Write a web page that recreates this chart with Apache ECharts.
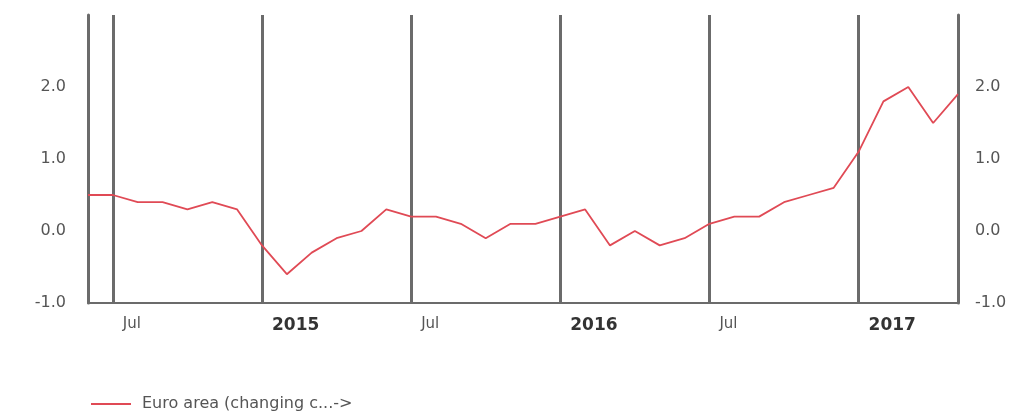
<!DOCTYPE html>
<html>
<head>
<meta charset="utf-8">
<script src="https://cdn.jsdelivr.net/npm/echarts@6/dist/echarts.min.js"></script>
<style>
  html, body { margin: 0; padding: 0; background: #fff; }
  #content { width: 1029px; height: 411px; }
</style>
</head>
<body>
<div id="content"></div>
<script>
var chart = echarts.init(document.getElementById('content'));

// months shown, May 2014 .. Apr 2017
var months = [
    '2014-05', '2014-06', '2014-07', '2014-08', '2014-09', '2014-10', '2014-11', '2014-12',
    '2015-01', '2015-02', '2015-03', '2015-04', '2015-05', '2015-06', '2015-07', '2015-08',
    '2015-09', '2015-10', '2015-11', '2015-12', '2016-01', '2016-02', '2016-03', '2016-04',
    '2016-05', '2016-06', '2016-07', '2016-08', '2016-09', '2016-10', '2016-11', '2016-12',
    '2017-01', '2017-02', '2017-03', '2017-04'
];

// euro area annual inflation, %
var euroArea = [
    0.5, 0.5, 0.4, 0.4, 0.3, 0.4, 0.3, -0.2,
    -0.6, -0.3, -0.1, 0.0, 0.3, 0.2, 0.2, 0.1,
    -0.1, 0.1, 0.1, 0.2, 0.3, -0.2, 0.0, -0.2,
    -0.1, 0.1, 0.2, 0.2, 0.4, 0.5, 0.6, 1.1,
    1.8, 2.0, 1.5, 1.9
];

// tick label positions (month index) and their text
var tickIndex = [1, 7, 13, 19, 25, 31];
var tickText = ['Jul', '2015', 'Jul', '2016', 'Jul', '2017'];

var gridColor = '#6b6b6b';

var option = {
    animation: false,
    grid: { left: 88, right: 71, top: 15, bottom: 108 },
    legend: {
        left: 86,
        top: 391,
        icon: 'rect',
        itemWidth: 40,
        itemHeight: 2,
        textStyle: { fontFamily: 'DejaVu Sans', fontSize: 16, color: '#555', padding: [0, 0, 0, 6] },
        data: ['Euro area (changing c...->']
    },
    xAxis: {
        type: 'category',
        data: months,
        boundaryGap: false,
        axisLine: { onZero: false, lineStyle: { color: gridColor, width: 2 } },
        axisTick: { show: false },
        axisLabel: {
            interval: function (i) { return tickIndex.indexOf(i) >= 0; },
            align: 'left',
            margin: 14,
            padding: [0, 0, 0, 10],
            fontFamily: 'DejaVu Sans',
            fontSize: 15,
            color: '#555',
            formatter: function (v, i) {
                var k = tickIndex.indexOf(i);
                if (k < 0) return '';
                var t = tickText[k];
                return t === 'Jul' ? t : '{b|' + t + '}';
            },
            rich: { b: { fontFamily: 'DejaVu Sans', fontSize: 17, fontWeight: 'bold', color: '#333' } }
        },
        splitLine: {
            show: true,
            interval: function (i) { return tickIndex.indexOf(i) >= 0; },
            lineStyle: { color: gridColor, width: 3 }
        }
    },
    yAxis: [
        {
            type: 'value', min: -1, max: 3, interval: 1,
            axisLine: { show: true, lineStyle: { color: gridColor, width: 3 } },
            axisTick: { show: false },
            splitLine: { show: false },
            axisLabel: {
                showMaxLabel: false, margin: 22,
                fontFamily: 'DejaVu Sans', fontSize: 16, color: '#555',
                formatter: function (v) { return v.toFixed(1); }
            }
        },
        {
            type: 'value', min: -1, max: 3, interval: 1, position: 'right',
            axisLine: { show: true, lineStyle: { color: gridColor, width: 3 } },
            axisTick: { show: false },
            splitLine: { show: false },
            axisLabel: {
                showMaxLabel: false, margin: 17,
                fontFamily: 'DejaVu Sans', fontSize: 16, color: '#555',
                formatter: function (v) { return v.toFixed(1); }
            }
        }
    ],
    series: [
        {
            name: 'Euro area (changing c...->',
            type: 'line',
            data: euroArea,
            showSymbol: false,
            symbol: 'none',
            lineStyle: { color: '#e04a55', width: 1.8 },
            itemStyle: { color: '#e04a55' }
        }
    ]
};

chart.setOption(option);
</script>
</body>
</html>
